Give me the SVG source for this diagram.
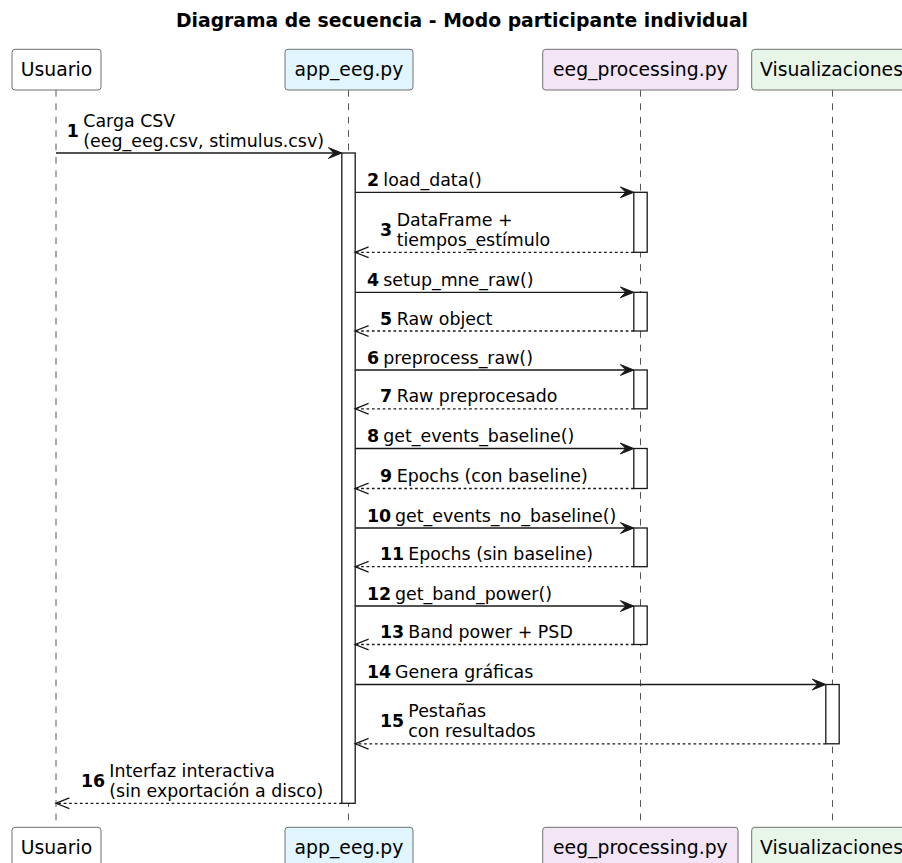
<svg xmlns="http://www.w3.org/2000/svg" width="902" height="863" viewBox="0 0 902 863">
  <style>
    .title { font-family: "DejaVu Sans", sans-serif; font-weight: bold; font-size: 18.8px; fill: #000; }
    .pbox { stroke: #707070; stroke-width: 1; }
    .pname { font-family: "DejaVu Sans", sans-serif; font-size: 18.8px; fill: #000; text-anchor: middle; }
    .life { stroke: #555; stroke-width: 1; stroke-dasharray: 6.7 6.7; fill: none; }
    .act { fill: #fff; stroke: #181818; stroke-width: 1.3; }
    .msg { stroke: #181818; stroke-width: 1.3; fill: none; }
    .ret { stroke: #181818; stroke-width: 1.3; fill: none; stroke-dasharray: 2.7 2.7; }
    .head { fill: #181818; stroke: #181818; stroke-width: 1; }
    .chev { fill: none; stroke: #181818; stroke-width: 1.3; }
    .num { font-family: "DejaVu Sans", sans-serif; font-weight: bold; font-size: 17.4px; fill: #000; }
    .lbl { font-family: "DejaVu Sans", sans-serif; font-size: 17.4px; fill: #000; }
  </style>

  <text class="title" x="462" y="27" text-anchor="middle">Diagrama de secuencia - Modo participante individual</text>

  <!-- lifelines -->
  <g id="lifelines">
    <line class="life" x1="56" y1="90" x2="56" y2="827"/>
    <line class="life" x1="348.5" y1="90" x2="348.5" y2="827"/>
    <line class="life" x1="640.5" y1="90" x2="640.5" y2="827"/>
    <line class="life" x1="832.5" y1="90" x2="832.5" y2="827"/>
  </g>

  <!-- participants -->
  <g id="usuario">
    <rect class="pbox" x="12" y="49.3" width="89" height="40.7" rx="3" fill="#FFFFFF"/>
    <text class="pname" x="56.5" y="75.7">Usuario</text>
    <rect class="pbox" x="12" y="827.3" width="89" height="40.7" rx="3" fill="#FFFFFF"/>
    <text class="pname" x="56.5" y="853.7">Usuario</text>
  </g>
  <g id="app_eeg">
    <rect class="pbox" x="285" y="49.3" width="128" height="40.7" rx="3" fill="#E1F5FE"/>
    <text class="pname" x="349" y="75.7">app_eeg.py</text>
    <rect class="pbox" x="285" y="827.3" width="128" height="40.7" rx="3" fill="#E1F5FE"/>
    <text class="pname" x="349" y="853.7">app_eeg.py</text>
  </g>
  <g id="eeg_processing">
    <rect class="pbox" x="542.7" y="49.3" width="195.3" height="40.7" rx="3" fill="#F3E5F5"/>
    <text class="pname" x="640.4" y="75.7">eeg_processing.py</text>
    <rect class="pbox" x="542.7" y="827.3" width="195.3" height="40.7" rx="3" fill="#F3E5F5"/>
    <text class="pname" x="640.4" y="853.7">eeg_processing.py</text>
  </g>
  <g id="visualizaciones">
    <rect class="pbox" x="751.7" y="49.3" width="162" height="40.7" rx="3" fill="#E8F5E9"/>
    <text class="pname" x="760" y="75.7" text-anchor="start" style="text-anchor:start">Visualizaciones</text>
    <rect class="pbox" x="751.7" y="827.3" width="162" height="40.7" rx="3" fill="#E8F5E9"/>
    <text class="pname" x="760" y="853.7" style="text-anchor:start">Visualizaciones</text>
  </g>

  <!-- activation bars -->
  <g id="activations">
    <rect class="act" x="341.8" y="153" width="13.4" height="650.3"/>
    <rect class="act" x="633.8" y="192.3" width="13.4" height="60"/>
    <rect class="act" x="633.8" y="292.3" width="13.4" height="38.7"/>
    <rect class="act" x="633.8" y="370" width="13.4" height="38.8"/>
    <rect class="act" x="633.8" y="448.5" width="13.4" height="40"/>
    <rect class="act" x="633.8" y="528" width="13.4" height="38.7"/>
    <rect class="act" x="633.8" y="606" width="13.4" height="38.5"/>
    <rect class="act" x="825.8" y="684.5" width="13.4" height="59.3"/>
  </g>

  <!-- messages -->
  <g id="connectors">
    <!-- 1 -->
    <line class="msg" x1="56" y1="153" x2="340" y2="153"/>
    <polygon class="head" points="341.8,153 328.4,147.6 333.8,153 328.4,158.4"/>
    <!-- 2 -->
    <line class="msg" x1="355.2" y1="192.3" x2="632" y2="192.3"/>
    <polygon class="head" points="633.8,192.3 620.4,186.9 625.8,192.3 620.4,197.7"/>
    <!-- 3 -->
    <line class="ret" x1="633.8" y1="252.3" x2="355.2" y2="252.3"/>
    <polyline class="chev" points="368.6,246.9 355.2,252.3 368.6,257.7"/>
    <!-- 4 -->
    <line class="msg" x1="355.2" y1="292.3" x2="632" y2="292.3"/>
    <polygon class="head" points="633.8,292.3 620.4,286.9 625.8,292.3 620.4,297.7"/>
    <!-- 5 -->
    <line class="ret" x1="633.8" y1="331" x2="355.2" y2="331"/>
    <polyline class="chev" points="368.6,325.6 355.2,331 368.6,336.4"/>
    <!-- 6 -->
    <line class="msg" x1="355.2" y1="370" x2="632" y2="370"/>
    <polygon class="head" points="633.8,370 620.4,364.6 625.8,370 620.4,375.4"/>
    <!-- 7 -->
    <line class="ret" x1="633.8" y1="408.8" x2="355.2" y2="408.8"/>
    <polyline class="chev" points="368.6,403.4 355.2,408.8 368.6,414.2"/>
    <!-- 8 -->
    <line class="msg" x1="355.2" y1="448.5" x2="632" y2="448.5"/>
    <polygon class="head" points="633.8,448.5 620.4,443.1 625.8,448.5 620.4,453.9"/>
    <!-- 9 -->
    <line class="ret" x1="633.8" y1="488.5" x2="355.2" y2="488.5"/>
    <polyline class="chev" points="368.6,483.1 355.2,488.5 368.6,493.9"/>
    <!-- 10 -->
    <line class="msg" x1="355.2" y1="528" x2="632" y2="528"/>
    <polygon class="head" points="633.8,528 620.4,522.6 625.8,528 620.4,533.4"/>
    <!-- 11 -->
    <line class="ret" x1="633.8" y1="566.7" x2="355.2" y2="566.7"/>
    <polyline class="chev" points="368.6,561.3 355.2,566.7 368.6,572.1"/>
    <!-- 12 -->
    <line class="msg" x1="355.2" y1="606" x2="632" y2="606"/>
    <polygon class="head" points="633.8,606 620.4,600.6 625.8,606 620.4,611.4"/>
    <!-- 13 -->
    <line class="ret" x1="633.8" y1="644.5" x2="355.2" y2="644.5"/>
    <polyline class="chev" points="368.6,639.1 355.2,644.5 368.6,649.9"/>
    <!-- 14 -->
    <line class="msg" x1="355.2" y1="684.5" x2="824" y2="684.5"/>
    <polygon class="head" points="825.8,684.5 812.4,679.1 817.8,684.5 812.4,689.9"/>
    <!-- 15 -->
    <line class="ret" x1="825.8" y1="743.8" x2="355.2" y2="743.8"/>
    <polyline class="chev" points="368.6,738.4 355.2,743.8 368.6,749.2"/>
    <!-- 16 -->
    <line class="ret" x1="341.8" y1="803.3" x2="56" y2="803.3"/>
    <polyline class="chev" points="69.4,797.9 56,803.3 69.4,808.7"/>
  </g>

  <!-- message labels -->
  <g id="labels">
    <text class="num" x="66.7" y="136.8">1</text>
    <text class="lbl" x="83.3"><tspan x="83.3" y="126.5">Carga CSV</tspan><tspan x="83.3" y="146.8">(eeg_eeg.csv, stimulus.csv)</tspan></text>

    <text class="num" x="367" y="186">2</text>
    <text class="lbl" x="383.3" y="186">load_data()</text>

    <text class="num" x="380" y="235.6">3</text>
    <text class="lbl"><tspan x="396.7" y="225.5">DataFrame +</tspan><tspan x="396.7" y="245.8">tiempos_estímulo</tspan></text>

    <text class="num" x="367" y="286">4</text>
    <text class="lbl" x="383.3" y="286">setup_mne_raw()</text>

    <text class="num" x="380" y="324.5">5</text>
    <text class="lbl" x="396.7" y="324.5">Raw object</text>

    <text class="num" x="367" y="363.7">6</text>
    <text class="lbl" x="383.3" y="363.7">preprocess_raw()</text>

    <text class="num" x="380" y="402.3">7</text>
    <text class="lbl" x="396.7" y="402.3">Raw preprocesado</text>

    <text class="num" x="367" y="442.2">8</text>
    <text class="lbl" x="383.3" y="442.2">get_events_baseline()</text>

    <text class="num" x="380" y="482">9</text>
    <text class="lbl" x="396.7" y="482">Epochs (con baseline)</text>

    <text class="num" x="367" y="521.7">10</text>
    <text class="lbl" x="395" y="521.7">get_events_no_baseline()</text>

    <text class="num" x="380" y="560.2">11</text>
    <text class="lbl" x="408.3" y="560.2">Epochs (sin baseline)</text>

    <text class="num" x="367" y="599.7">12</text>
    <text class="lbl" x="395" y="599.7">get_band_power()</text>

    <text class="num" x="380" y="638">13</text>
    <text class="lbl" x="408.3" y="638">Band power + PSD</text>

    <text class="num" x="367" y="678.2">14</text>
    <text class="lbl" x="395" y="678.2">Genera gráficas</text>

    <text class="num" x="380" y="727.2">15</text>
    <text class="lbl"><tspan x="408.3" y="717">Pestañas</tspan><tspan x="408.3" y="737.3">con resultados</tspan></text>

    <text class="num" x="81" y="786.7">16</text>
    <text class="lbl"><tspan x="109.3" y="776.5">Interfaz interactiva</tspan><tspan x="109.3" y="796.8">(sin exportación a disco)</tspan></text>
  </g>
</svg>
